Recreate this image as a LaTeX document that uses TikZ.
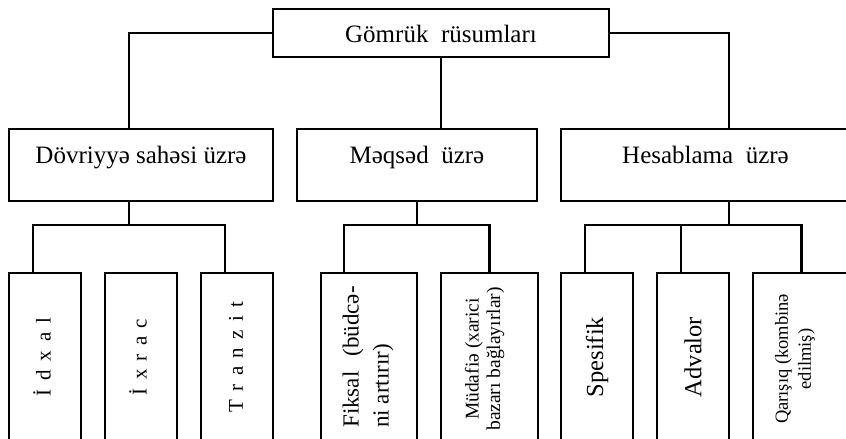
\documentclass[tikz,border=0pt]{standalone}
\usepackage{fontspec}
\setmainfont{Liberation Serif}
\newcommand{\lsp}{\hspace{8.3pt}}
\begin{document}
\begin{tikzpicture}[x=1pt,y=-1pt,
  box/.style={draw, line width=2.4pt, inner sep=0pt, outer sep=0pt, rectangle},
  midbox/.style={box, minimum height=72pt, font=\fontsize{25}{30}\selectfont, text height=17pt, text depth=20pt},
  lowbox/.style={box, minimum height=168pt},
  vtext/.style={rotate=90, inner sep=0pt},
  ln/.style={line width=2.4pt}]
\useasboundingbox (0,0) rectangle (846,439);
\clip (0,0) rectangle (846,439);
% top
\node[box, minimum width=336pt, minimum height=48pt, font=\fontsize{25}{30}\selectfont, text height=19.4pt, text depth=0pt] (top) at (441,33) {Gömrük\ \ rüsumları};
% middle level
\node[midbox, minimum width=264pt] (m1) at (141,165) {Dövriyyə sahəsi üzrə};
\node[midbox, minimum width=240pt] (m2) at (417,165) {Məqsəd\ \ üzrə};
\node[midbox, minimum width=289pt] (m3) at (705.5,165) {Hesablama\ \ üzrə};
% bottom level boxes
\node[lowbox, minimum width=72pt] (b1) at (45,357) {};
\node[lowbox, minimum width=72pt] (b2) at (141,357) {};
\node[lowbox, minimum width=72pt] (b3) at (237,357) {};
\node[lowbox, minimum width=96pt] (b4) at (369,357) {};
\node[lowbox, minimum width=97pt] (b5) at (489.5,357) {};
\node[lowbox, minimum width=72pt] (b6) at (597,357) {};
\node[lowbox, minimum width=72pt] (b7) at (693,357) {};
\node[lowbox, minimum width=97pt] (b8) at (801.5,357) {};
% texts
\node[vtext, font=\fontsize{21}{24}\selectfont] (t1) at ([xshift=-3pt]b1.center) {İ\lsp d\lsp x\hspace{10pt}a\lsp l};
\node[vtext, font=\fontsize{21}{24}\selectfont] (t2) at ([xshift=-3pt]b2.center) {İ\lsp x\lsp r\lsp a\lsp c};
\node[vtext, font=\fontsize{21}{24}\selectfont] (t3) at ([xshift=-1pt]b3.center) {T\lsp r\lsp a\lsp n\lsp z\lsp i\lsp t};
\node[vtext, align=left, font=\fontsize{23}{30}\selectfont] (t4) at ([xshift=-1pt]b4.center) {Fiksal\hspace{15pt}(büdcə-\\ni artırır)};
\node[vtext, align=center, font=\fontsize{19.5}{21.5}\selectfont] (t5) at ([xshift=-5pt,yshift=-2pt]b5.center) {Müdafiə (xarici\\bazarı bağlayırlar)};
\node[vtext, font=\fontsize{24.5}{28}\selectfont] (t6) at (b6.center) {Spesifik};
\node[vtext, font=\fontsize{24.5}{28}\selectfont] (t7) at (b7.center) {Advalor};
\node[vtext, align=center, font=\fontsize{18.5}{23}\selectfont] (t8) at ([xshift=-6.5pt,yshift=-2pt]b8.center) {Qarışıq (kombinə\\edilmiş)};
% connectors top -> middle
\draw[ln] (top.west) -| ([xshift=-12pt]m1.north);
\draw[ln] (top.east) -| ([xshift=23.5pt]m3.north);
\draw[ln] (top.south) -- (top.south |- m2.north);
% junctions
\coordinate (j1) at (129,225);
\coordinate (j2) at (417,225);
\coordinate (j3) at (729,225);
% left group
\draw[ln] ([xshift=-12pt]m1.south) -- (j1);
\draw[ln] ([xshift=-12pt]b1.north) |- (j1) -| ([xshift=-12pt]b3.north);
% middle group
\draw[ln] (m2.south) -- (j2);
\draw[ln] ([xshift=-25pt]b4.north) |- (j2) -| (b5.north);
% right group
\draw[ln] ([xshift=23.5pt]m3.south) -- (j3);
\draw[ln] ([xshift=-12pt]b6.north) |- (j3) -| (b8.north);
\draw[ln] ([xshift=-12pt]b7.north) -- ([xshift=-12pt]b7.north |- j3);
\end{tikzpicture}
\end{document}
